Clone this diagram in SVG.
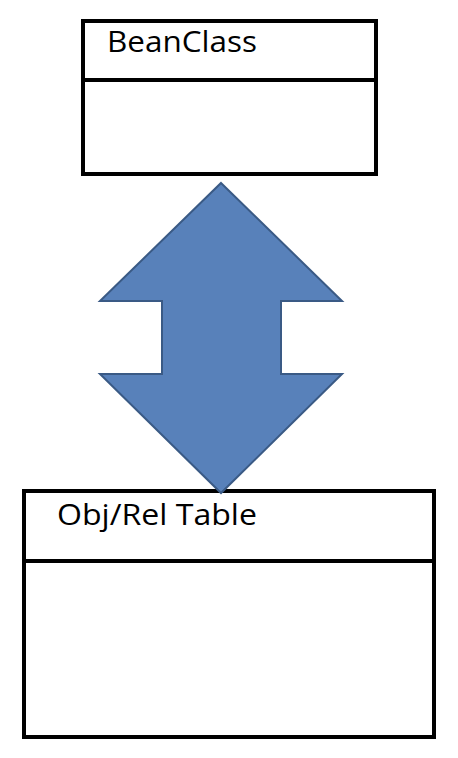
<svg xmlns="http://www.w3.org/2000/svg" width="458" height="758" viewBox="0 0 458 758">
<style>
.box{fill:#fff;stroke:#000;stroke-width:4}
.div{stroke:#000;stroke-width:4}
.lbl{font-family:"Open Sans","Liberation Sans",sans-serif;font-size:29px;fill:#000}
.arrow{fill:#5881BA;stroke:#3A5A85;stroke-width:2;stroke-linejoin:miter}
</style>
<rect width="458" height="758" fill="#fff"/>
<g id="beanclass">
<rect class="box" x="83" y="21" width="293" height="153"/>
<line class="div" x1="83" y1="80" x2="376" y2="80"/>
<text class="lbl" x="107" y="52" textLength="150" lengthAdjust="spacingAndGlyphs">BeanClass</text>
</g>
<g id="objreltable">
<rect class="box" x="24" y="491" width="410" height="246"/>
<line class="div" x1="24" y1="561" x2="434" y2="561"/>
<text class="lbl" x="57" y="525" textLength="200" lengthAdjust="spacingAndGlyphs">Obj/Rel Table</text>
</g>
<g id="connectors">
<polygon class="arrow" points="221,183 342,301 281,301 281,374 342,374 221,493 100,374 162,374 162,301 100,301"/>
</g>
</svg>
